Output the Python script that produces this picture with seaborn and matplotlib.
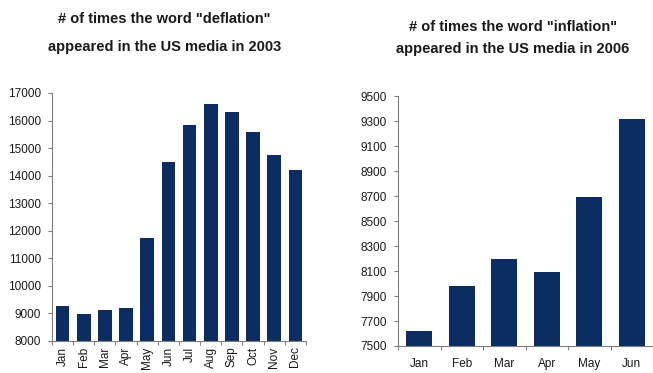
import numpy as np
import pandas as pd
import matplotlib
matplotlib.use("Agg")
import matplotlib.pyplot as plt
import seaborn as sns

# Monthly counts of word mentions in US media
deflation_months = ["Jan", "Feb", "Mar", "Apr", "May", "Jun",
                    "Jul", "Aug", "Sep", "Oct", "Nov", "Dec"]
deflation_counts = [9280, 8990, 9140, 9200, 11740, 14500,
                    15830, 16610, 16310, 15600, 14750, 14190]

inflation_months = ["Jan", "Feb", "Mar", "Apr", "May", "Jun"]
inflation_counts = [7620, 7980, 8200, 8090, 8690, 9320]

deflation_title = '# of times the word "deflation"\nappeared in the US media in 2003'
inflation_title = '# of times the word "inflation"\nappeared in the US media in 2006'

sns.set_style("white")
plt.rcParams["font.family"] = ["Liberation Sans", "DejaVu Sans"]

BAR = "#0b2d62"
AXIS = "#7f7f7f"
TEXT = "#1a1a1a"

fig = plt.figure(figsize=(6.53, 3.73), dpi=100)
ax1 = fig.add_axes([0.0796, 0.0858, 0.389, 0.665])
ax2 = fig.add_axes([0.6095, 0.0724, 0.3905, 0.670])

df1 = pd.DataFrame({"month": deflation_months, "count": deflation_counts})
df2 = pd.DataFrame({"month": inflation_months, "count": inflation_counts})

sns.barplot(data=df1, x="month", y="count", color=BAR, saturation=1,
            width=0.64, linewidth=0, ax=ax1)
sns.barplot(data=df2, x="month", y="count", color=BAR, saturation=1,
            width=0.62, linewidth=0, ax=ax2)


def style_axes(ax, ymin, ymax, step, n, rot, pad):
    ax.set_ylim(ymin, ymax)
    ax.set_yticks(np.arange(ymin, ymax + step / 2, step))
    ax.set_xlim(-0.5, n - 0.5)
    ax.set_xlabel("")
    ax.set_ylabel("")
    for s in ["top", "right"]:
        ax.spines[s].set_visible(False)
    for s in ["left", "bottom"]:
        ax.spines[s].set_color(AXIS)
        ax.spines[s].set_linewidth(0.8)
    ax.tick_params(axis="y", which="major", direction="out", length=3,
                   width=0.8, color=AXIS, labelsize=8.5, pad=5, left=True)
    # category labels without ticks; tick marks drawn between categories
    ax.tick_params(axis="x", which="major", length=0, labelsize=8.5,
                   pad=pad)
    ax.set_xticks(np.arange(-0.5, n, 1.0), minor=True)
    ax.tick_params(axis="x", which="minor", direction="out", length=3,
                   width=0.8, color=AXIS, bottom=True)
    for lab in ax.get_xticklabels():
        lab.set_rotation(rot)
    for lab in ax.get_xticklabels() + ax.get_yticklabels():
        lab.set_color(TEXT)


style_axes(ax1, 8000, 17000, 1000, len(deflation_months), 90, 4)
style_axes(ax2, 7500, 9500, 200, len(inflation_months), 0, 9)

fig.text(0.252, 0.912, deflation_title, ha="center", va="center",
         fontsize=10.5, fontweight="bold", linespacing=2.3, color=TEXT)
fig.text(0.785, 0.898, inflation_title, ha="center", va="center",
         fontsize=10.5, fontweight="bold", linespacing=1.74, color=TEXT)

fig.savefig("out.png", dpi=100)
